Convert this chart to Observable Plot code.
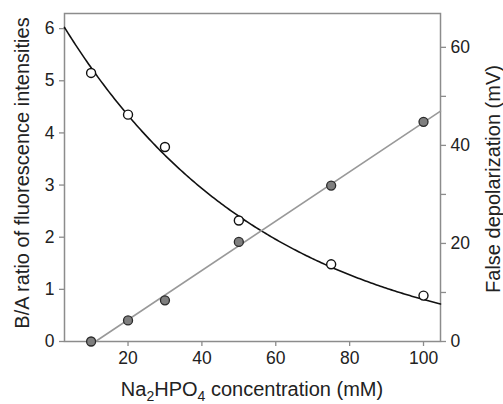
<!DOCTYPE html>
<html><head><meta charset="utf-8">
<script src="https://cdn.jsdelivr.net/npm/d3@7"></script>
<script src="https://cdn.jsdelivr.net/npm/@observablehq/plot@0.6"></script>
<style>body{margin:0;background:#fff}</style>
</head><body><div id="chart"></div>
<script>
// Data
const conc = [10, 20, 30, 50, 75, 100];            // Na2HPO4 concentration (mM)
const ratio = [5.15, 4.35, 3.73, 2.32, 1.48, 0.88]; // B/A ratio (open circles)
const depol = [0, 4.3, 8.4, 20.3, 31.8, 44.8];      // False depolarization mV (filled circles)
const xTicks = [20, 40, 60, 80, 100];
const yTicks = [0, 1, 2, 3, 4, 5, 6];
const mvTicks = [0, 20, 40, 60];
const mvMinor = [10, 30, 50];
const expFit = {a: 6.63, k: 0.0181, c: -0.28};       // fitted decay curve for ratio
const xDomain = [2.8, 104.6];
const yDomain = [0, 6.29];
const mvPerUnit = 10.636;                            // right axis (mV) per left axis unit

const ratioData = conc.map((x, i) => ({x, y: ratio[i]}));
const depolData = conc.map((x, i) => ({x, mv: depol[i]}));

// exponential fit curve
const curve = d3.range(xDomain[0], xDomain[1] + 1e-9, 0.5).concat([xDomain[1]])
  .map(x => ({x, y: expFit.a * Math.exp(-expFit.k * x) + expFit.c}));

// least squares linear fit for depolarization
const mx = d3.mean(conc), my = d3.mean(depol);
const slope = d3.sum(conc, (x, i) => (x - mx) * (depol[i] - my)) / d3.sum(conc, x => (x - mx) ** 2);
const icpt = my - slope * mx;
const x0 = -icpt / slope;
const fitLine = [x0, xDomain[1]].map(x => ({x, y: (icpt + slope * x) / mvPerUnit}));

const FONT = "'Liberation Sans', Arial, Helvetica, sans-serif";
const AX = "#8c8c8c";
const TXT = "#222";

const plot = Plot.plot({
  width: 503, height: 404,
  marginLeft: 64, marginRight: 63, marginTop: 13, marginBottom: 63,
  style: {fontFamily: FONT, fontSize: "17.5px", background: "#fff", color: TXT},
  x: {domain: xDomain},
  y: {domain: yDomain},
  marks: [
    Plot.axisX({ticks: xTicks, tickFormat: d3.format("d"), tickSize: 5, tickPadding: 5, label: null, stroke: AX, fill: TXT, strokeWidth: 1.3}),
    Plot.axisY({anchor: "left", ticks: yTicks, tickFormat: d3.format("d"), tickSize: 5, tickPadding: 5, label: null, stroke: AX, fill: TXT, strokeWidth: 1.3}),
    Plot.axisY({anchor: "right", ticks: mvTicks.map(v => v / mvPerUnit), tickFormat: d => String(Math.round(d * mvPerUnit)),
      tickSize: 5, tickPadding: 5, label: null, stroke: AX, fill: TXT, strokeWidth: 1.3}),
    Plot.axisY({anchor: "right", ticks: mvMinor.map(v => v / mvPerUnit), tickFormat: () => "",
      tickSize: 5, label: null, stroke: AX, strokeWidth: 1.3}),
    Plot.frame({stroke: AX, strokeWidth: 1.5}),
    Plot.line(curve, {x: "x", y: "y", stroke: "#111", strokeWidth: 1.6}),
    Plot.line(fitLine, {x: "x", y: "y", stroke: "#999", strokeWidth: 1.6}),
    Plot.dot(depolData, {x: "x", y: d => d.mv / mvPerUnit, r: 4.5, fill: "#7f7f7f", stroke: "#2a2a2a", strokeWidth: 1.3}),
    Plot.dot(ratioData, {x: "x", y: "y", r: 4.5, fill: "#fff", stroke: "#111", strokeWidth: 1.4})
  ]
});
document.getElementById("chart").append(plot);

const svg = d3.select(plot);
// x axis title with subscripts
const xt = svg.append("text").attr("x", 252).attr("y", 396).attr("text-anchor", "middle")
  .attr("font-family", FONT).attr("font-size", 20).attr("fill", TXT);
xt.append("tspan").text("Na");
xt.append("tspan").attr("font-size", 14).attr("dy", 5).text("2");
xt.append("tspan").attr("dy", -5).text("HPO");
xt.append("tspan").attr("font-size", 14).attr("dy", 5).text("4");
xt.append("tspan").attr("dy", -5).text(" concentration (mM)");
// left title
svg.append("text").attr("transform", "translate(22,173) rotate(-90)").attr("text-anchor", "middle")
  .attr("dy", "0.35em").attr("font-family", FONT).attr("font-size", 20).attr("fill", TXT)
  .text("B/A ratio of fluorescence intensities");
// right title
svg.append("text").attr("transform", "translate(493,179) rotate(-90)").attr("text-anchor", "middle")
  .attr("dy", "0.35em").attr("font-family", FONT).attr("font-size", 20).attr("fill", TXT)
  .text("False depolarization (mV)");
</script>
</body></html>
